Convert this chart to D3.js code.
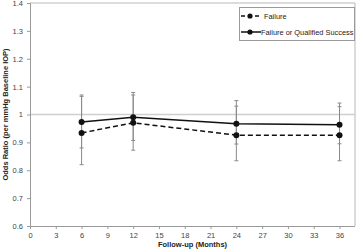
<!DOCTYPE html>
<html>
<head>
<meta charset="utf-8">
<script src="https://cdn.jsdelivr.net/npm/d3@7"></script>
<style>
  body { margin: 0; background: #fff; }
  svg { display: block; font-family: "Liberation Sans", Arial, sans-serif; }
</style>
</head>
<body>
<div id="chart"></div>
<script>
var width = 358
var height = 251

// data
var months = [6, 12, 24, 36]
var failure = [0.934, 0.970, 0.926, 0.926]
var failureLow = [0.820, 0.872, 0.834, 0.834]
var failureHigh = [1.065, 1.070, 1.030, 1.028]
var qualified = [0.973, 0.990, 0.967, 0.963]
var qualifiedLow = [0.880, 0.907, 0.894, 0.895]
var qualifiedHigh = [1.070, 1.079, 1.050, 1.041]
var xTicks = d3.range(0, 37, 3)
var yTicks = [0.6, 0.7, 0.8, 0.9, 1, 1.1, 1.2, 1.3, 1.4]

var series = [
    {name: "Failure", dash: "5,3", vals: failure, lo: failureLow, hi: failureHigh},
    {name: "Failure or Qualified Success", dash: null, vals: qualified, lo: qualifiedLow, hi: qualifiedHigh}
]

var x = d3.scaleLinear().domain([0, 37.8]).range([30, 355])
var y = d3.scaleLinear().domain([0.6, 1.4]).range([226, 3])

var svg = d3.select("#chart").append("svg")
    .attr("width", width)
    .attr("height", height)

// frame top/right
svg.append("path")
    .attr("d", "M30,3H355V226")
    .attr("fill", "none")
    .attr("stroke", "#b8b8b8")
    .attr("stroke-width", 1)

// reference line at 1
svg.append("line")
    .attr("x1", x(0)).attr("x2", 355)
    .attr("y1", y(1)).attr("y2", y(1))
    .attr("stroke", "#cfcfcf")
    .attr("stroke-width", 1.5)

var xAxis = svg.append("g")
    .attr("transform", "translate(0," + y(0.6) + ")")
    .call(d3.axisBottom(x).tickValues(xTicks).tickSize(3).tickPadding(4))
var yAxis = svg.append("g")
    .attr("transform", "translate(" + x(0) + ",0)")
    .call(d3.axisLeft(y).tickValues(yTicks).tickSize(3).tickPadding(4)
        .tickFormat(function(d){ return d3.format("")(+d.toFixed(1)) }))

xAxis.select(".domain").attr("d", "M30,0.5H355")
;[xAxis, yAxis].forEach(function(ax){
    ax.select(".domain").attr("stroke", "#9a9a9a")
    ax.selectAll(".tick line").attr("stroke", "#9a9a9a")
    ax.selectAll(".tick text")
        .attr("font-size", "7.5px")
        .attr("fill", "#444")
        .attr("font-family", "Liberation Sans, Arial, sans-serif")
})

// error bars
series.forEach(function(s){
    var g = svg.append("g")
    months.forEach(function(m, i){
        var cx = x(m)
        g.append("line")
            .attr("x1", cx).attr("x2", cx)
            .attr("y1", y(s.lo[i])).attr("y2", y(s.hi[i]))
            .attr("stroke", "#8a8a8a").attr("stroke-width", 1)
        ;[s.lo[i], s.hi[i]].forEach(function(v){
            g.append("line")
                .attr("x1", cx - 2).attr("x2", cx + 2)
                .attr("y1", y(v)).attr("y2", y(v))
                .attr("stroke", "#8a8a8a").attr("stroke-width", 1)
        })
    })
})

var line = d3.line()
    .x(function(d){ return x(d[0]) })
    .y(function(d){ return y(d[1]) })

series.forEach(function(s){
    var pts = months.map(function(m, i){ return [m, s.vals[i]] })
    svg.append("path")
        .attr("d", line(pts))
        .attr("fill", "none")
        .attr("stroke", "#111")
        .attr("stroke-width", 1.5)
        .attr("stroke-dasharray", s.dash)
    svg.selectAll(null)
        .data(pts)
        .enter().append("circle")
            .attr("cx", function(d){ return x(d[0]) })
            .attr("cy", function(d){ return y(d[1]) })
            .attr("r", 3)
            .attr("fill", "#111")
})

// legend
var leg = svg.append("g")
leg.append("rect")
    .attr("x", 239.5).attr("y", 7.5)
    .attr("width", 115).attr("height", 33)
    .attr("fill", "#fff")
    .attr("stroke", "#9a9a9a")
series.forEach(function(s, i){
    var ly = 16 + i * 16
    leg.append("line")
        .attr("x1", 241).attr("x2", 261)
        .attr("y1", ly).attr("y2", ly)
        .attr("stroke", "#111").attr("stroke-width", 1.5)
        .attr("stroke-dasharray", s.dash ? "4,3" : null)
    leg.append("circle")
        .attr("cx", 250).attr("cy", ly).attr("r", 2.6).attr("fill", "#111")
    leg.append("text")
        .attr("x", i === 0 ? 264 : 261)
        .attr("y", ly + 2.5)
        .attr("font-size", "7.4px")
        .attr("fill", "#222")
        .text(s.name)
})

// axis titles
svg.append("text")
    .attr("x", 192.5).attr("y", 247)
    .attr("text-anchor", "middle")
    .attr("font-size", "7.5px")
    .attr("font-weight", "bold")
    .attr("fill", "#222")
    .text("Follow-up (Months)")
svg.append("text")
    .attr("transform", "translate(8,114.5) rotate(-90)")
    .attr("text-anchor", "middle")
    .attr("font-size", "7.5px")
    .attr("font-weight", "bold")
    .attr("fill", "#222")
    .text("Odds Ratio (per mmHg Baseline IOP)")
</script>
</body>
</html>
